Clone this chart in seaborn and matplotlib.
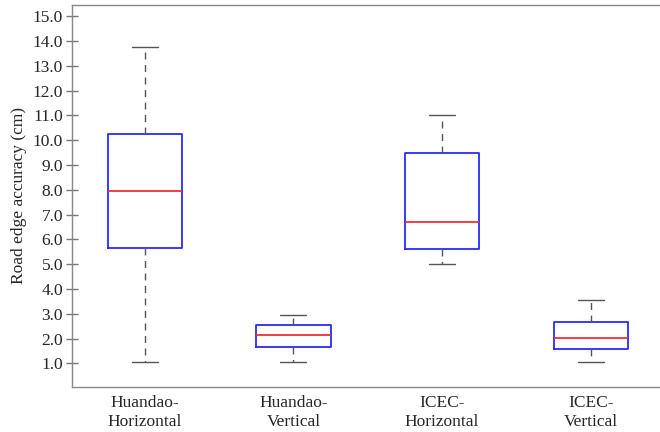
import numpy as np
import pandas as pd
import matplotlib
matplotlib.use("Agg")
import matplotlib.pyplot as plt
import seaborn as sns
from matplotlib.ticker import FormatStrFormatter

categories = ["Huandao-\nHorizontal", "Huandao-\nVertical", "ICEC-\nHorizontal", "ICEC-\nVertical"]
# five-number summaries: min, Q1, median, Q3, max
whisker_low = [1.07, 1.07, 5.02, 1.07]
q1 = [5.65, 1.65, 5.62, 1.57]
median = [7.95, 2.15, 6.70, 2.02]
q3 = [10.25, 2.55, 9.50, 2.66]
whisker_high = [13.75, 2.95, 11.00, 3.57]

rows = []
for i, c in enumerate(categories):
    for v in (whisker_low[i], q1[i], median[i], q3[i], whisker_high[i]):
        rows.append({"group": c, "value": v})
df = pd.DataFrame(rows)

sns.set_style("white")
plt.rcParams["font.family"] = ["Liberation Serif", "DejaVu Serif"]

fig = plt.figure(figsize=(6.6, 4.32), dpi=100)
ax = fig.add_axes([72 / 660, 45 / 432, 593 / 660, 382.5 / 432])

sns.boxplot(data=df, x="group", y="value", order=categories, ax=ax,
            whis=(0, 100), fill=False, width=0.5, linewidth=1.1,
            showfliers=False,
            boxprops=dict(color="#2a2aff", linewidth=1.3),
            medianprops=dict(color="#f03030", linewidth=1.3),
            whiskerprops=dict(color="#555555", linestyle=(0, (5, 4)), linewidth=1.0),
            capprops=dict(color="#555555", linewidth=1.0),
            capwidths=0.175)

ax.set_xlim(-0.49, 3.5)
ax.set_ylim(0.05, 15.47)
ax.set_yticks(np.arange(1, 16, 1.0))
ax.yaxis.set_major_formatter(FormatStrFormatter("%.1f"))
ax.set_xlabel("")
ax.set_ylabel("Road edge accuracy (cm)", fontsize=12.5, labelpad=4)
ax.tick_params(axis="y", direction="inout", length=9, width=1, color="#777777",
               labelsize=12.5, pad=2, left=True)
ax.tick_params(axis="x", length=0, labelsize=12.5, pad=6)
for s in ax.spines.values():
    s.set_color("#888888")
    s.set_linewidth(1.0)
ax.spines["right"].set_visible(False)

fig.savefig("out.png", dpi=100)
